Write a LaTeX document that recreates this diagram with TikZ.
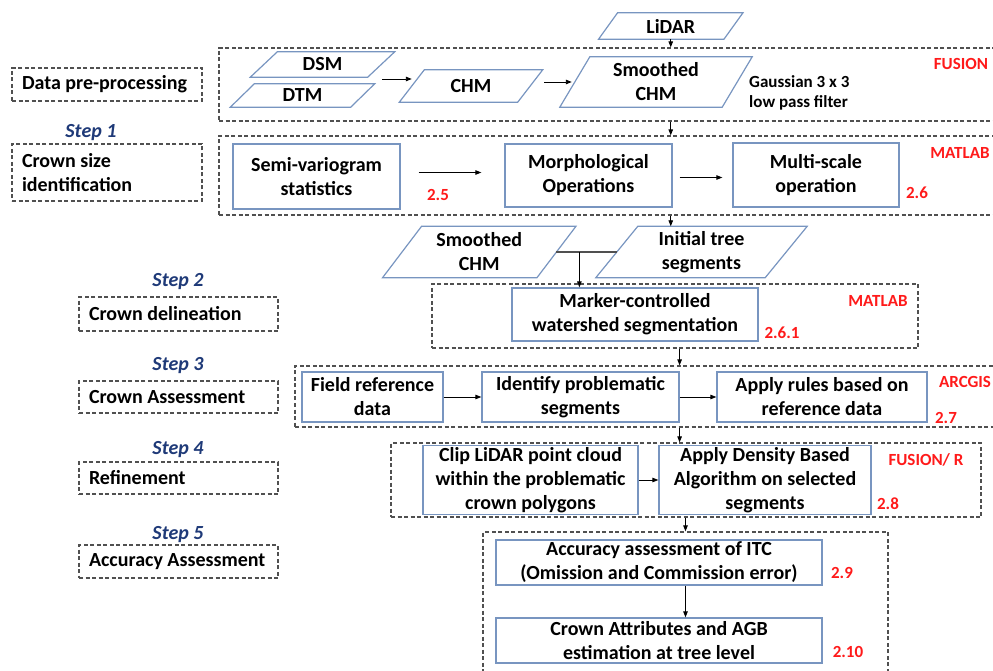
\documentclass[tikz,border=0pt]{standalone}
\usepackage{fontspec}
\setmainfont{Carlito}
\usepackage{tikz}
\usetikzlibrary{calc,arrows.meta}
\definecolor{boxBlue}{HTML}{7895C0}
\definecolor{dashGrey}{HTML}{505050}
\definecolor{stepNavy}{HTML}{1F3A78}
\definecolor{tagRed}{HTML}{FF1A1A}
\tikzset{
  flowBox/.style={draw=boxBlue, line width=1.2pt, align=center, inner sep=2pt,
    font=\fontsize{20}{24}\selectfont\bfseries},
  paraNode/.style={inner sep=0pt, align=center, font=\fontsize{20}{24}\selectfont\bfseries},
  paraLine/.style={draw=boxBlue, line width=1.2pt},
  groupBox/.style={draw=dashGrey, line width=1.2pt, dash pattern=on 4pt off 2.5pt},
  stepBox/.style={draw=dashGrey, line width=1.2pt, dash pattern=on 4pt off 2.5pt,
    align=flush left, inner xsep=10pt, inner ysep=0pt, font=\fontsize{20}{24}\selectfont\bfseries},
  stepLabel/.style={text=stepNavy, font=\fontsize{20}{24}\selectfont\bfseries\itshape},
  redTag/.style={text=tagRed, font=\fontsize{17}{20}\selectfont\bfseries},
  noteText/.style={align=left, inner sep=0pt, font=\fontsize{17}{20}\selectfont\bfseries},
  flowArrow/.style={-{Triangle[length=6pt,width=4.5pt]}, line width=0.9pt},
  joinLine/.style={line width=1.3pt, draw=dashGrey}
}
% parallelogram round an (invisible) node: node name, half slant
\newcommand{\paraOutline}[2]{%
  \draw[paraLine] ([xshift=-#2]#1.south west) -- ([xshift=-#2]#1.south east)
    -- ([xshift=#2]#1.north east) -- ([xshift=#2]#1.north west) -- cycle;}

\begin{document}
\begin{tikzpicture}[x=1pt, y=-1pt]
  \useasboundingbox (0,0) rectangle (993,671);
  \clip (0,0) rectangle (993,671);

  % left column
  \node[stepBox, text width=170, minimum height=33] (dataPre) at (107,84.5) {Data pre-processing};
  \node[stepLabel] (step1) at (91,133) {Step 1};
  \node[stepBox, text width=170, minimum height=57] (crownSize) at (107,172.5) {Crown size\\identification};
  \node[stepLabel] (step2) at (178,282) {Step 2};
  \node[stepBox, text width=179, minimum height=34] (delin) at (178.5,314) {Crown delineation};
  \node[stepLabel] (step3) at (178,366) {Step 3};
  \node[stepBox, text width=179, minimum height=32] (assess) at (178.5,397) {Crown Assessment};
  \node[stepLabel] (step4) at (178,450) {Step 4};
  \node[stepBox, text width=179, minimum height=32] (refine) at (178.5,478) {Refinement};
  \node[stepLabel] (step5) at (178,535) {Step 5};
  \node[stepBox, text width=179, minimum height=33] (accuracy) at (178.5,561.5) {Accuracy Assessment};

  % dashed groups
  \node[groupBox, minimum width=781, minimum height=73] (preBox) at (609.5,84.5) {};
  \node[groupBox, minimum width=781, minimum height=79] (sizeBox) at (609.5,175.5) {};
  \node[groupBox, minimum width=486, minimum height=64] (delinBox) at (675,316) {};
  \node[groupBox, minimum width=705, minimum height=61] (assessBox) at (647.5,396.5) {};
  \node[groupBox, minimum width=590, minimum height=74] (refineBox) at (686,480) {};
  \node[groupBox, minimum width=405, minimum height=158] (accBox) at (685.5,611) {};

  % pre-processing
  \node[paraNode, minimum width=125, minimum height=26] (lidar) at (670.75,26) {LiDAR};
  \paraOutline{lidar}{9.5}
  \node[paraNode, minimum width=117, minimum height=25] (dsm) at (322.5,64.5) {DSM};
  \paraOutline{dsm}{13.5}
  \node[paraNode, minimum width=120, minimum height=23] (dtm) at (302.5,95.5) {DTM};
  \paraOutline{dtm}{12}
  \node[paraNode, minimum width=118, minimum height=32] (chm) at (471,86) {CHM};
  \paraOutline{chm}{12.5}
  \node[paraNode, minimum width=162, minimum height=50] (smooth1) at (656,82) {Smoothed\\CHM};
  \paraOutline{smooth1}{15}
  \node[noteText, anchor=west] (gaussNote) at (749,93) {Gaussian 3 x 3\\low pass filter};
  \node[redTag] (fusionTag) at (961,64) {FUSION};

  \coordinate (dsmDtm) at (382,79);
  \draw[flowArrow] (dsmDtm) -- (dsmDtm -| chm.west);
  \coordinate (chmOut) at ([xshift=14pt]chm.east);
  \draw[flowArrow] (chmOut |- smooth1.west) -- ([xshift=-3pt]smooth1.west);
  \draw[flowArrow] (lidar.south) -- (lidar.south |- preBox.north);
  \draw[flowArrow] (preBox.south -| lidar) -- (sizeBox.north -| lidar);

  % step 1
  \node[flowBox, minimum width=167, minimum height=65] (semiVar) at (316.5,176.5) {Semi-variogram\\statistics};
  \node[flowBox, minimum width=167, minimum height=63] (morph) at (588.5,175.5) {Morphological\\Operations};
  \node[flowBox, minimum width=166, minimum height=64] (multi) at (816,175) {Multi-scale\\operation};
  \node[redTag] (tag25) at (438,195) {2.5};
  \node[redTag] (tag26) at (917,193) {2.6};
  \node[redTag] (matlabTag) at (960,153) {MATLAB};
  \draw[flowArrow, shorten <=18pt, shorten >=23pt] ([yshift=3pt]semiVar.east |- morph.west) -- ([yshift=3pt]morph.west);
  \draw[flowArrow, shorten <=7pt, shorten >=10pt] ([yshift=-2pt]morph.east) -- ([yshift=-2pt]multi.west |- morph.east);

  % step 2
  \node[paraNode, minimum width=154, minimum height=51] (smooth2) at (479.25,252) {Smoothed\\CHM};
  \paraOutline{smooth2}{19.5}
  \node[paraNode, minimum width=169, minimum height=51] (initTree) at (701.5,252) {Initial tree\\segments};
  \paraOutline{initTree}{21}
  \node[flowBox, minimum width=246, minimum height=53] (marker) at (635,314.5) {Marker-controlled\\watershed segmentation};
  \node[redTag] (tag261) at (782,333) {2.6.1};
  \node[redTag] (matlabTagB) at (878,301) {MATLAB};
  \draw[flowArrow] (sizeBox.south -| lidar) -- (initTree.north -| lidar);
  \draw[joinLine] (smooth2.east) -- (initTree.west);
  \coordinate (joinPt) at ($(smooth2.east)!0.38!(initTree.west)$);
  \draw[flowArrow] (joinPt) -- (joinPt |- marker.north);

  % step 3
  \node[flowBox, minimum width=141, minimum height=50] (fieldRef) at (372.5,397) {Field reference\\data};
  \node[flowBox, minimum width=197, minimum height=50] (idSeg) at (580.5,397) {Identify problematic\\segments};
  \node[flowBox, minimum width=210, minimum height=50] (applyRules) at (822,397) {Apply rules based on\\reference data};
  \node[redTag] (arcgisTag) at (965,382) {ARCGIS};
  \node[redTag] (tag27) at (946,418) {2.7};
  \draw[flowArrow] (fieldRef.east) -- (idSeg.west);
  \draw[flowArrow] (idSeg.east) -- (applyRules.west);
  \draw[flowArrow] (delinBox.south -| idSeg.east) -- (assessBox.north -| idSeg.east);
  \draw[flowArrow] (assessBox.south -| idSeg.east) -- (refineBox.north -| idSeg.east);

  % step 4
  \node[flowBox, minimum width=215, minimum height=66] (clipPts) at (530.5,480) {Clip LiDAR point cloud\\within the problematic\\crown polygons};
  \node[flowBox, minimum width=212, minimum height=66] (density) at (765,480) {Apply Density Based\\Algorithm on selected\\segments};
  \node[redTag] (fusionRTag) at (926,460) {FUSION/ R};
  \node[redTag] (tag28) at (888,504) {2.8};
  \draw[flowArrow] (clipPts.east) -- (density.west);
  \draw[flowArrow] (refineBox.south -| accBox) -- (accBox.north);

  % step 5
  \node[flowBox, minimum width=326, minimum height=45] (accCheck) at (659,562.5) {Accuracy assessment of ITC\\(Omission and Commission error)};
  \node[flowBox, minimum width=326, minimum height=45] (crownAttr) at (659,640.5) {Crown Attributes and AGB\\estimation at tree level};
  \node[redTag] (tag29) at (842,573) {2.9};
  \node[redTag] (tag210) at (848,652) {2.10};
  \draw[flowArrow] (accCheck.south -| accBox) -- (crownAttr.north -| accBox);
\end{tikzpicture}
\end{document}
